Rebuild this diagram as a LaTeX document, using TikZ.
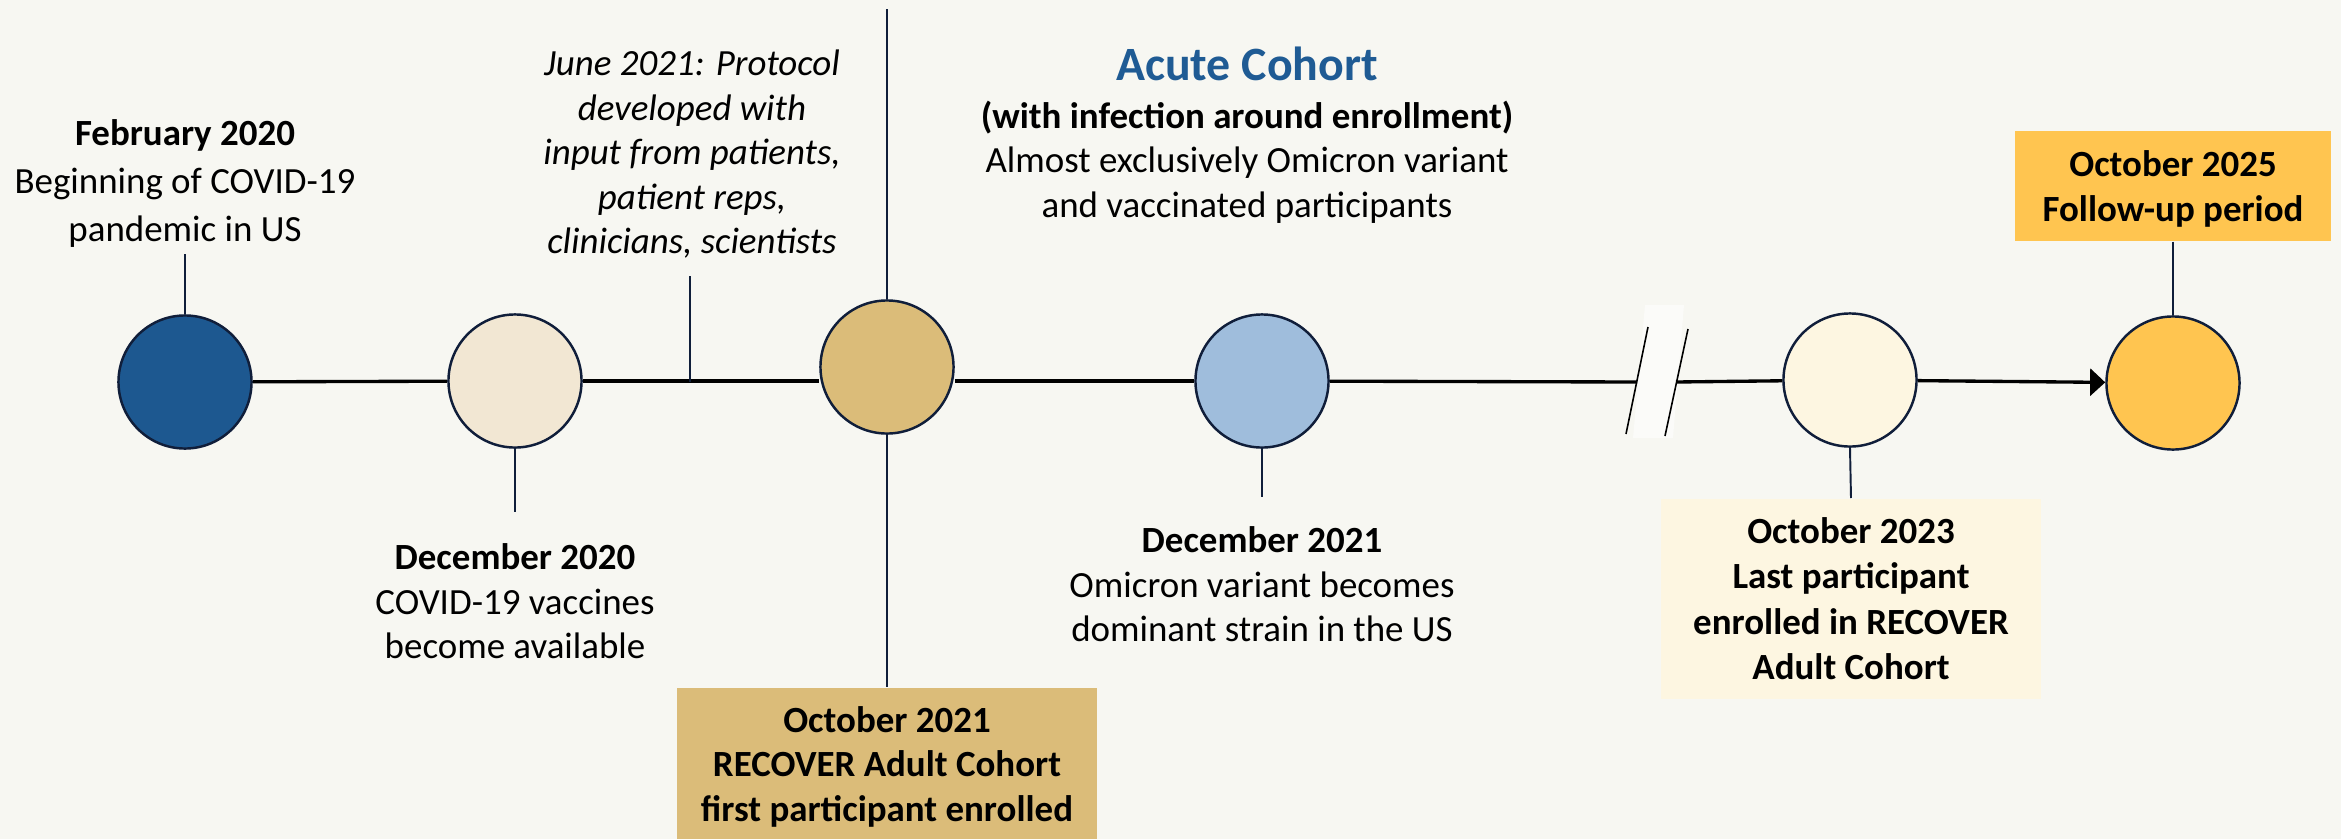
\documentclass[tikz,border=0pt]{standalone}
\usepackage{fontspec}
\setmainfont{Carlito}
\usepackage{xcolor}
\usepackage{tikz}
\usetikzlibrary{arrows.meta,positioning}
\definecolor{paperbg}{RGB}{247,247,242}
\definecolor{navyline}{RGB}{16,30,58}
\definecolor{pandemicblue}{RGB}{29,88,144}
\definecolor{vaccinecream}{RGB}{242,231,211}
\definecolor{enrolgold}{RGB}{219,188,121}
\definecolor{omicronblue}{RGB}{159,189,220}
\definecolor{lastcream}{RGB}{253,246,225}
\definecolor{followgold}{RGB}{255,197,80}
\definecolor{cohortblue}{RGB}{31,91,148}

\begin{document}
\begin{tikzpicture}[x=0.01cm,y=-0.01cm,
        event/.style={circle,draw=navyline,line width=0.7pt,minimum size=1.33cm,inner sep=0pt},
        tick/.style={navyline,line width=0.55pt},
        axis/.style={black,line width=0.95pt},
        lbl/.style={align=center,inner sep=0pt,font=\fontsize{10.5}{12.7}\selectfont},
        datebox/.style={lbl,font=\fontsize{10.5}{12.7}\selectfont\bfseries}]
        % page
        \useasboundingbox (0,0) rectangle (2341,839);
        \fill[paperbg] (0,0) rectangle (2341,839);
        % milestones on the time line
        \node[event,fill=pandemicblue] (feb20) at (185,382) {};
        \node[event,fill=vaccinecream] (dec20) at (515,381) {};
        \node[event,fill=enrolgold] (oct21) at (887,367) {};
        \node[event,fill=omicronblue] (dec21) at (1262,381) {};
        \node[event,fill=lastcream] (oct23) at (1850,380) {};
        \node[event,fill=followgold] (oct25) at (2173,383) {};
        \coordinate (jun21) at (690,382);
        % break
        \fill[white!50!paperbg] (1645,305) -- (1684,305) -- (1673,438) -- (1633,438) -- cycle;
        \coordinate (brkL) at (1637,382);
        \coordinate (brkR) at (1676,382);
        \draw[black,line width=0.45pt] (1648,327) -- (1626,434) (1688,329) -- (1665,436);
        % time line
        \draw[axis] (feb20) -- (dec20);
        \draw[axis] (dec20) -- (oct21.west |- dec20);
        \draw[axis] (oct21.east |- dec21) -- (dec21);
        \draw[axis] (dec21) -- (brkL);
        \draw[axis] (brkR) -- (oct23);
        \draw[axis,-{Triangle[length=4.3pt,width=7.7pt]}] (oct23) -- (oct25);
        % labels above
        \node[lbl,anchor=north,font=\fontsize{10.5}{13.6}\selectfont] (feb20lbl) at (185,119) {\textbf{February 2020}\\Beginning of COVID-19\\pandemic in US};
        \node[lbl,anchor=north,font=\fontsize{10.5}{12.7}\selectfont\itshape] (jun21lbl) at (692,49) {June 2021: Protocol\\developed with\\input from patients,\\patient reps,\\clinicians, scientists};
        \node[lbl,anchor=base,font=\fontsize{13.6}{16}\selectfont\bfseries,text=cohortblue] (acutettl) at (1247,80) {Acute Cohort};
        \node[lbl,anchor=north] (acutetxt) at (1247,100) {\textbf{(with infection around enrollment)}\\Almost exclusively Omicron variant\\and vaccinated participants};
        \node[datebox,fill=followgold,minimum width=3.15cm,minimum height=1.1cm,text depth=0pt] (oct25box) at (2173,186) {October 2025\\Follow-up period};
        % labels below
        \node[lbl,anchor=north] (dec20lbl) at (515,543) {\textbf{December 2020}\\COVID-19 vaccines\\become available};
        \node[lbl,anchor=north] (dec21lbl) at (1262,526) {\textbf{December 2021}\\Omicron variant becomes\\dominant strain in the US};
        \node[datebox,fill=enrolgold,minimum width=4.19cm,minimum height=1.58cm,anchor=north] (oct21box) at (887,687) {October 2021\\RECOVER Adult Cohort\\first participant enrolled};
        \node[datebox,fill=lastcream,minimum width=3.79cm,minimum height=2cm,anchor=north,font=\fontsize{10.5}{12.9}\selectfont\bfseries] (oct23box) at (1851,498) {October 2023\\Last participant\\enrolled in RECOVER\\Adult Cohort};
        % ticks
        \coordinate (oct21top) at (887,9);
        \draw[tick,shorten >=0.06cm] (feb20.north) -- (feb20lbl.south);
        \draw[tick] (jun21) -- (jun21 |- 0,276);
        \draw[tick] (oct21.north) -- (oct21top);
        \draw[tick] (oct21.south) -- (oct21box.north);
        \draw[tick] (oct25box.south) -- (oct25.north);
        \draw[tick,shorten >=0.31cm] (dec20.south) -- (dec20lbl.north);
        \draw[tick,shorten >=0.29cm] (dec21.south) -- (dec21lbl.north);
        \draw[tick] (oct23.south) -- (oct23box.north);
    \end{tikzpicture}
\end{document}
